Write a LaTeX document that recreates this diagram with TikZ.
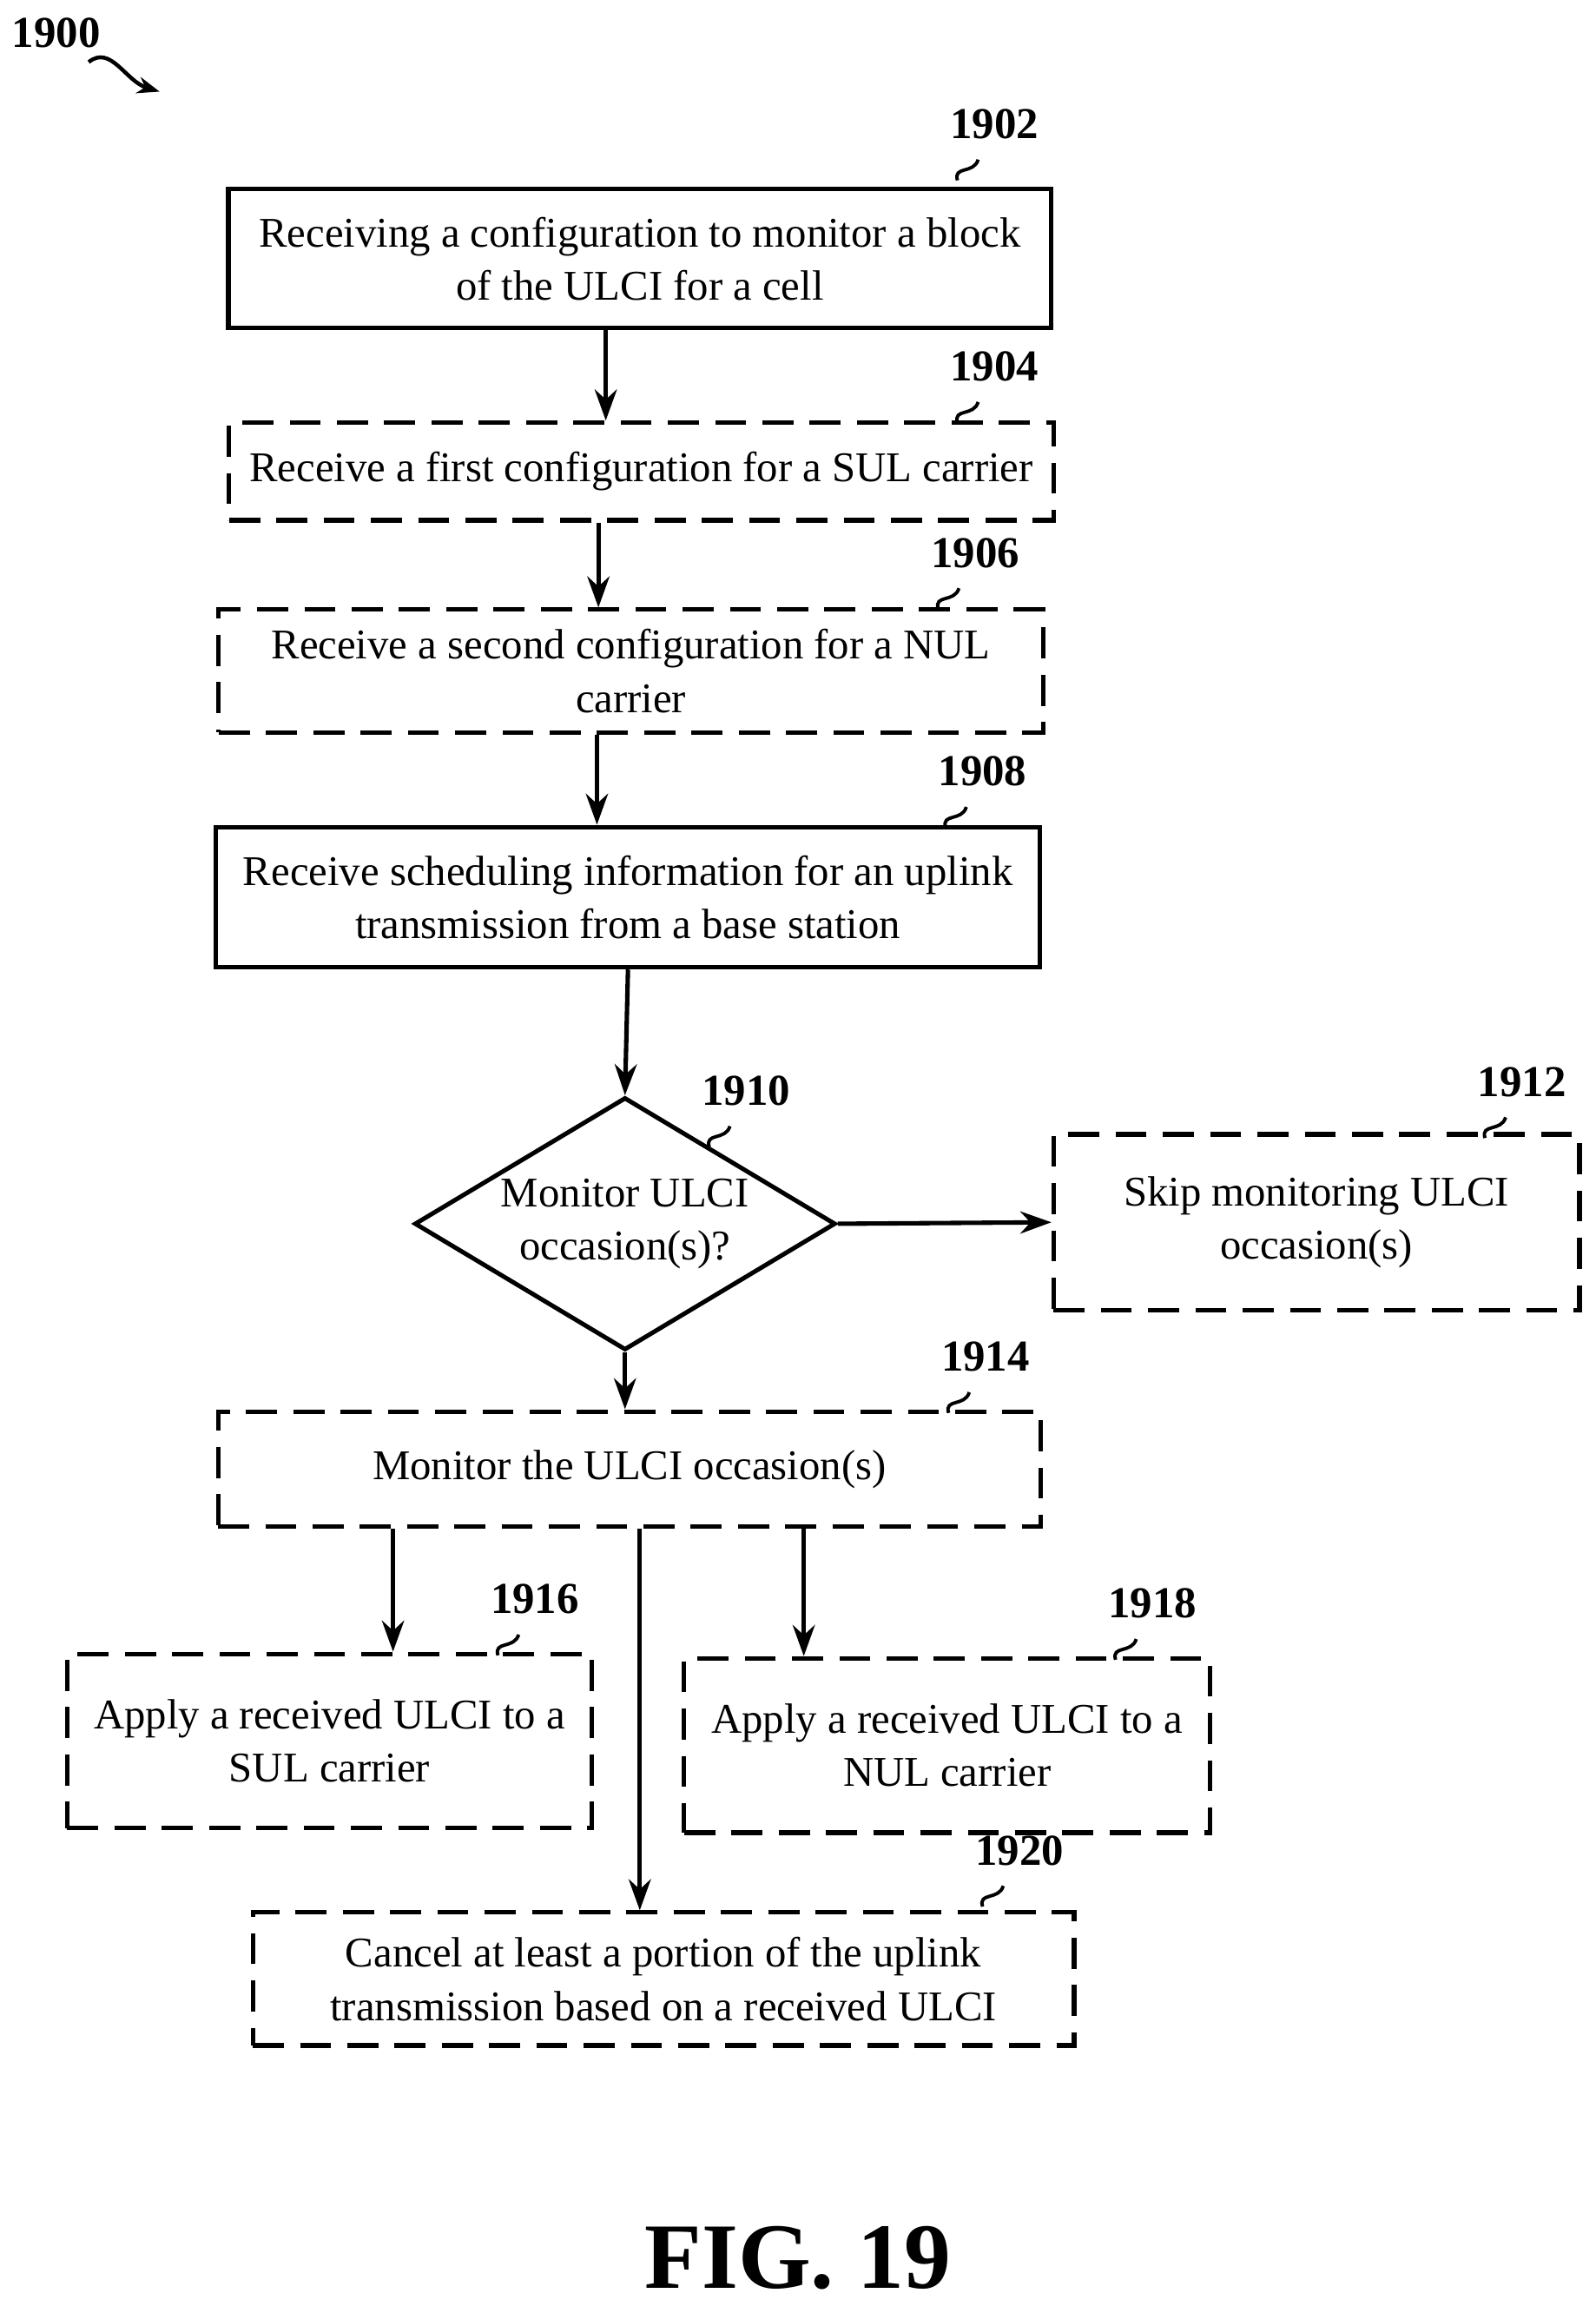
\documentclass[tikz,border=0pt]{standalone}
\usepackage{fontspec}
\setmainfont{Liberation Serif}
\usetikzlibrary{shapes.geometric,arrows.meta}

\tikzset{
    box/.style={draw, line width=1.7pt, align=center, inner sep=0pt,
        font=\fontsize{16.3}{20.5}\selectfont},
    dbox/.style={box, dash pattern=on 0.42cm off 0.22cm},
    arr/.style={line width=1.7pt, -{Stealth[length=0.42cm,width=0.3cm]}},
    tag/.style={font=\fontsize{17}{20}\selectfont\bfseries},
}

% reference numeral with its little squiggle
\newcommand{\reftag}[4]{%
    \node[tag] (#1) at (#2,#3) {#4};
    \draw[line width=1.3pt] (#2-25,#3+38) .. controls (#2-28,#3+28) and (#2-14,#3+34) .. (#2-11,#3+24);
}

\begin{document}
\begin{tikzpicture}[x=0.02cm,y=-0.02cm]
    \useasboundingbox (0,0) rectangle (1080,1565);

    % Steps
    \node[box, minimum width=11.14cm, minimum height=1.88cm] (n1902) at (433,175)
        {Receiving a configuration to monitor a block\\of the ULCI for a cell};
    \node[dbox, minimum width=11.16cm, minimum height=1.32cm] (n1904) at (434,319)
        {Receive a first configuration for a SUL carrier};
    \node[dbox, minimum width=11.16cm, minimum height=1.66cm] (n1906) at (427,454)
        {Receive a second configuration for a NUL\\carrier};
    \node[box, minimum width=11.16cm, minimum height=1.9cm] (n1908) at (425,607)
        {Receive scheduling information for an uplink\\transmission from a base station};
    \node[box, shape=diamond, shape aspect=1.67, inner sep=-14pt,
        minimum width=5.7cm, minimum height=3.42cm] (n1910) at (423,828)
        {Monitor ULCI\\occasion(s)?};
    \node[dbox, minimum width=7.12cm, minimum height=2.38cm] (n1912) at (891,827)
        {Skip monitoring ULCI\\occasion(s)};
    \node[dbox, minimum width=11.14cm, minimum height=1.56cm] (n1914) at (426,994)
        {Monitor the ULCI occasion(s)};
    \node[dbox, minimum width=7.1cm, minimum height=2.36cm] (n1916) at (223,1178)
        {Apply a received ULCI to a\\SUL carrier};
    \node[dbox, minimum width=7.12cm, minimum height=2.36cm] (n1918) at (641,1181)
        {Apply a received ULCI to a\\NUL carrier};
    \node[dbox, minimum width=11.12cm, minimum height=1.8cm] (n1920) at (449,1339)
        {Cancel at least a portion of the uplink\\transmission based on a received ULCI};

    % Flow
    \draw[arr] (n1902.south -| 410,0) -- (n1904.north -| 410,0);
    \draw[arr] (n1904.south -| 405,0) -- (n1906.north -| 405,0);
    \draw[arr] (n1906.south -| 404,0) -- (n1908.north -| 404,0);
    \draw[arr] (n1908.south -| 425,0) -- (n1910.north);
    \draw[arr] (n1910.east) -- (n1912.west);
    \draw[arr] (n1910.south) -- (n1914.north -| n1910.south);
    \draw[arr] (n1914.south -| 266,0) -- (n1916.north -| 266,0);
    \draw[arr] (n1914.south -| 433,0) -- (n1920.north -| 433,0);
    \draw[arr] (n1914.south -| 544,0) -- (n1918.north -| 544,0);

    % Reference numerals
    \node[tag] (t1900) at (38,22) {1900};
    \draw[line width=1.5pt, -{Stealth[length=0.3cm]}] (60,42) .. controls (75,30) and (85,55) .. (108,62);
    \reftag{t1902}{673}{84}{1902}
    \reftag{t1904}{673}{248}{1904}
    \reftag{t1906}{660}{374}{1906}
    \reftag{t1908}{665}{522}{1908}
    \reftag{t1910}{505}{738}{1910}
    \reftag{t1912}{1030}{732}{1912}
    \reftag{t1914}{667}{918}{1914}
    \reftag{t1916}{362}{1082}{1916}
    \reftag{t1918}{780}{1085}{1918}
    \reftag{t1920}{690}{1252}{1920}

    \node[font=\fontsize{36}{40}\selectfont\bfseries] (fig) at (540,1528) {FIG. 19};
\end{tikzpicture}
\end{document}
